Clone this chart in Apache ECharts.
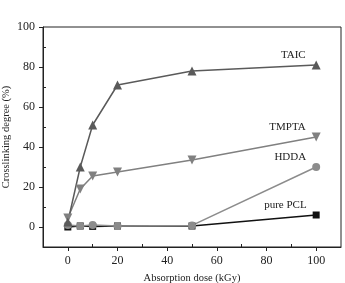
<!DOCTYPE html>
<html>
<head>
<meta charset="utf-8">
<script src="https://cdn.jsdelivr.net/npm/echarts@6/dist/echarts.min.js"></script>
<style>
html, body { margin: 0; padding: 0; background: #fff; }
#chart { width: 345px; height: 283px; }
</style>
</head>
<body>
<div id="chart"></div>
<script>
// absorption dose (kGy)
const doses = [0, 5, 10, 20, 50, 100]
// crosslinking degree (%)
const taic = [2.5, 30, 51, 71, 78, 81]
const tmpta = [4.5, 19, 25.5, 27.5, 33.5, 45]
const hdda = [1, 0.5, 1, 0.5, 0.8, 30]
const purePcl = [0, 0.5, 0.3, 0.5, 0.5, 6]
const xTicks = [0, 20, 40, 60, 80, 100]
const xMinor = [-10, 10, 30, 50, 70, 90]
const yTicks = [0, 20, 40, 60, 80, 100]
const yMinor = [-10, 10, 30, 50, 70, 90]

const font = 'Liberation Serif'
const ink = '#222'

function makeSeries(name, values, color, symbol, size, rotate) {
    return {
        name: name,
        type: 'line',
        data: values.map((v, i) => [doses[i], v]),
        symbol: symbol,
        symbolSize: size,
        symbolRotate: rotate || 0,
        itemStyle: { color: color },
        lineStyle: { color: color, width: 1.5 },
        label: {
            show: true,
            position: 'left',
            offset: [-1, -10],
            fontFamily: font,
            fontSize: 11,
            color: ink,
            formatter: (p) => p.dataIndex === values.length - 1 ? name : ''
        },
        animation: false
    }
}

// hidden axis used only for the short inner minor ticks
function minorAxis(pos, vals, min, max) {
    return {
        type: 'value',
        position: pos,
        min: min,
        max: max,
        axisLine: { show: false, onZero: false },
        axisTick: { customValues: vals, inside: true, length: 3, lineStyle: { color: ink } },
        axisLabel: { show: false },
        splitLine: { show: false }
    }
}

const chart = echarts.init(document.getElementById('chart'))
chart.setOption({
    grid: {
        left: 43, right: 4, top: 27, bottom: 36,
        outerBoundsMode: 'none',
        show: true, borderColor: ink, borderWidth: 1
    },
    xAxis: [{
        type: 'value',
        min: -10,
        max: 110,
        name: 'Absorption dose (kGy)',
        nameLocation: 'middle',
        nameGap: 26,
        nameMoveOverlap: false,
        nameTextStyle: { fontFamily: font, fontSize: 10.5, color: ink },
        axisLine: { onZero: false, lineStyle: { color: ink } },
        axisTick: { customValues: xTicks, length: 4, lineStyle: { color: ink } },
        axisLabel: { customValues: xTicks, fontFamily: font, fontSize: 12, color: ink },
        splitLine: { show: false }
    }, minorAxis('bottom', xMinor, -10, 110)],
    yAxis: [{
        type: 'value',
        min: -10,
        max: 100,
        name: 'Crosslinking degree (%)',
        nameLocation: 'middle',
        nameGap: 31,
        nameMoveOverlap: false,
        nameTextStyle: { fontFamily: font, fontSize: 10.5, color: ink },
        axisLine: { show: true, onZero: false, lineStyle: { color: ink } },
        axisTick: { customValues: yTicks, length: 4, lineStyle: { color: ink } },
        axisLabel: { customValues: yTicks, fontFamily: font, fontSize: 12, color: ink },
        splitLine: { show: false }
    }, minorAxis('left', yMinor, -10, 100)],
    series: [
        makeSeries('pure PCL', purePcl, '#111', 'rect', 7),
        makeSeries('HDDA', hdda, '#8c8c8c', 'circle', 8),
        makeSeries('TMPTA', tmpta, '#808080', 'triangle', 9, 180),
        makeSeries('TAIC', taic, '#5a5a5a', 'triangle', 9)
    ]
})
</script>
</body>
</html>
